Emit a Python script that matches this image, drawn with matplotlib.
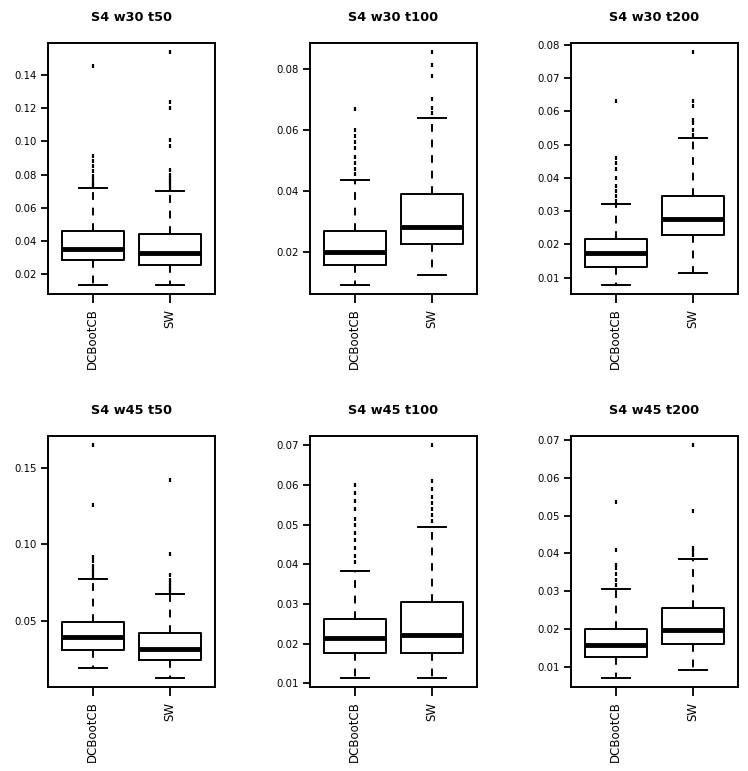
import numpy as np
import matplotlib
matplotlib.use("Agg")
import matplotlib.pyplot as plt

#%% data (summary stats per box)

titles = ["S4 w30 t50", "S4 w30 t100", "S4 w30 t200",
          "S4 w45 t50", "S4 w45 t100", "S4 w45 t200"]
groups = ["DCBootCB", "SW"]

# DCBootCB
dc_whislo = [0.0133, 0.0093, 0.0079, 0.0191, 0.0114, 0.0071]
dc_q1 = [0.0283, 0.0156, 0.0133, 0.0307, 0.0176, 0.0126]
dc_med = [0.0352, 0.0200, 0.0173, 0.0395, 0.0213, 0.0157]
dc_q3 = [0.0461, 0.0270, 0.0217, 0.0493, 0.0262, 0.0200]
dc_whishi = [0.0721, 0.0436, 0.0322, 0.0772, 0.0384, 0.0305]
dc_fliers = [
    [0.0735, 0.075, 0.077, 0.079, 0.082, 0.085, 0.088, 0.091, 0.146],
    [0.0455, 0.047, 0.049, 0.051, 0.054, 0.056, 0.058, 0.060, 0.0666],
    [0.033, 0.0345, 0.036, 0.0375, 0.040, 0.0425, 0.0445, 0.046, 0.063],
    [0.079, 0.081, 0.083, 0.086, 0.089, 0.092, 0.126, 0.165],
    [0.0405, 0.042, 0.044, 0.046, 0.048, 0.050, 0.0515, 0.054, 0.056, 0.058, 0.060],
    [0.0315, 0.033, 0.0345, 0.036, 0.037, 0.0408, 0.0535],
]

# SW
sw_whislo = [0.0133, 0.0125, 0.0114, 0.0127, 0.0114, 0.0092]
sw_q1 = [0.0253, 0.0226, 0.0227, 0.0241, 0.0176, 0.0161]
sw_med = [0.0324, 0.0282, 0.0277, 0.0318, 0.0222, 0.0196]
sw_q3 = [0.0441, 0.0389, 0.0345, 0.0417, 0.0304, 0.0256]
sw_whishi = [0.0701, 0.0637, 0.0520, 0.0675, 0.0495, 0.0384]
sw_fliers = [
    [0.072, 0.074, 0.076, 0.078, 0.080, 0.083, 0.097, 0.101, 0.120, 0.124, 0.154],
    [0.0655, 0.067, 0.0699, 0.0776, 0.081, 0.0853],
    [0.053, 0.0545, 0.0565, 0.0575, 0.0615, 0.063, 0.0777],
    [0.069, 0.071, 0.073, 0.075, 0.077, 0.080, 0.0936, 0.142],
    [0.051, 0.0525, 0.054, 0.0555, 0.057, 0.059, 0.061, 0.070],
    [0.0395, 0.0405, 0.0415, 0.0512, 0.0686],
]

yticks = [
    [0.02, 0.04, 0.06, 0.08, 0.10, 0.12, 0.14],
    [0.02, 0.04, 0.06, 0.08],
    [0.01, 0.02, 0.03, 0.04, 0.05, 0.06, 0.07, 0.08],
    [0.05, 0.10, 0.15],
    [0.01, 0.02, 0.03, 0.04, 0.05, 0.06, 0.07],
    [0.01, 0.02, 0.03, 0.04, 0.05, 0.06, 0.07],
]

#%% layout (pixel boxes of the panels in the 748x771 picture)

W, H = 748, 771
col_left = [48, 310, 571]
col_width = 167
row_top = [43, 436]
row_height = 251

plt.rcParams["font.family"] = ["DejaVu Sans"]
fig = plt.figure(figsize=(W / 100, H / 100), dpi=100)


def make_stats(i):
    dc = dict(whislo=dc_whislo[i], q1=dc_q1[i], med=dc_med[i], q3=dc_q3[i],
              whishi=dc_whishi[i], fliers=dc_fliers[i], label=groups[0])
    sw = dict(whislo=sw_whislo[i], q1=sw_q1[i], med=sw_med[i], q3=sw_q3[i],
              whishi=sw_whishi[i], fliers=sw_fliers[i], label=groups[1])
    return [dc, sw]


for i, title in enumerate(titles):
    r, c = divmod(i, 3)
    x0 = col_left[c] / W
    y0 = 1 - (row_top[r] + row_height) / H
    ax = fig.add_axes([x0, y0, col_width / W, row_height / H])

    stats = make_stats(i)
    ax.bxp(stats, positions=[1, 2], widths=0.8, capwidths=0.37,
           patch_artist=False,
           boxprops=dict(color="black", linewidth=1.4),
           medianprops=dict(color="black", linewidth=3.5, solid_capstyle="butt"),
           whiskerprops=dict(color="black", linewidth=1.4, linestyle=(0, (4, 4))),
           capprops=dict(color="black", linewidth=1.4),
           flierprops=dict(marker="|", markersize=3, markeredgewidth=1.6,
                           markeredgecolor="black", linestyle="none"))

    # R style axis ranges: 4% padding
    lo = min(min(s["whislo"], *s["fliers"]) for s in stats)
    hi = max(max(s["whishi"], *s["fliers"]) for s in stats)
    pad = (hi - lo) * 0.04
    ax.set_ylim(lo - pad, hi + pad)
    ax.set_xlim(0.42, 2.58)

    ax.set_yticks(yticks[i])
    ax.set_yticklabels([f"{t:.2f}" for t in yticks[i]], fontsize=7.3)
    ax.set_xticks([1, 2])
    ax.set_xticklabels(groups, rotation=90, fontsize=8.5)

    ax.tick_params(axis="both", direction="out", length=5, width=1.3, pad=3)
    ax.tick_params(axis="x", length=6.5, pad=4)
    for sp in ax.spines.values():
        sp.set_linewidth(1.4)

    ax.set_title(title, fontsize=9.3, fontweight="bold", pad=16)

fig.savefig("out.png", dpi=100)
